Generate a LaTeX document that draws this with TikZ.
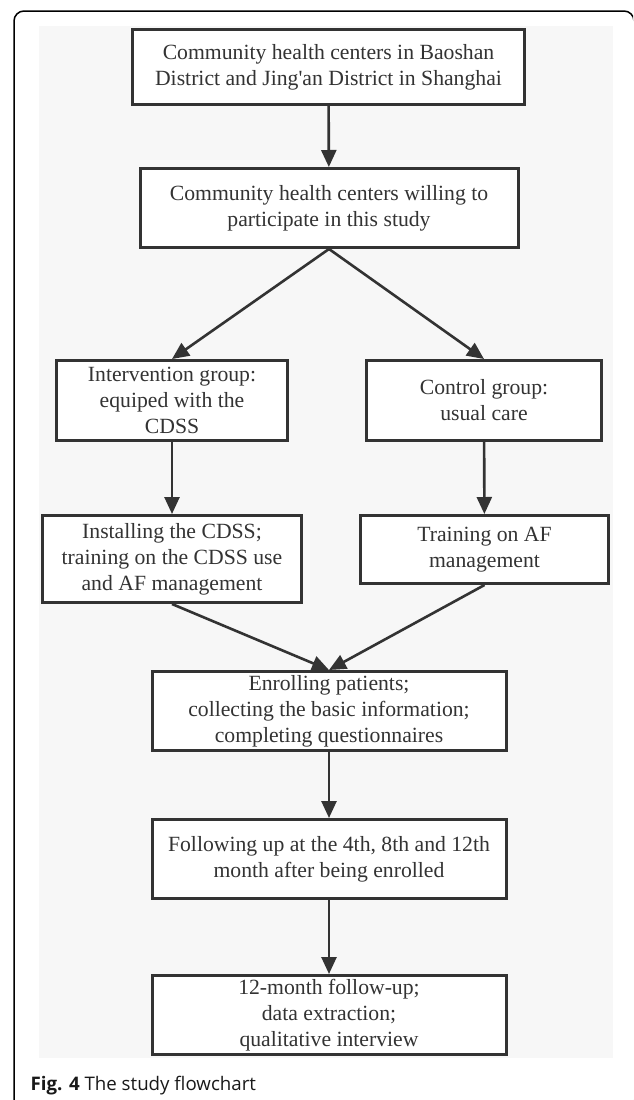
\documentclass[tikz,border=0pt]{standalone}
\usepackage{fontspec}
\setmainfont{Liberation Serif}
\newfontfamily\capfont{Open Sans}
\usetikzlibrary{arrows.meta}
\usetikzlibrary{positioning}
\usepackage{xcolor}
\definecolor{linegray}{HTML}{333333}
\definecolor{panelgray}{HTML}{F7F7F7}
\definecolor{textgray}{HTML}{333333}

\begin{document}
\begin{tikzpicture}[x=1pt, y=-1pt,
		flowbox/.style={draw=linegray, line width=3pt, fill=white, align=center, inner sep=0pt, text=textgray, font=\fontsize{21.7}{26}\selectfont},
		flowarrow/.style={draw=linegray, line width=2.6pt, -{Triangle[length=17pt, width=15pt]}}]
		% 外框和底色
		\useasboundingbox (0,0) rectangle (633,1100);
		\begin{scope}
			\clip (0,0) rectangle (633,1100);
			\draw[line width=1.5pt, rounded corners=10pt] (14,11) rectangle (634,1110);
		\end{scope}
		\fill[panelgray] (39,26) rectangle (613,1058);

		% 上部
		\node[flowbox, minimum width=392pt, minimum height=75pt] (centers) at (328.5,67) {Community health centers in Baoshan\\District and Jing\textquotesingle an District in Shanghai};
		\node[flowbox, minimum width=378pt, minimum height=79pt] (willing) at (329,208) {Community health centers willing to\\participate in this study};

		% 两组
		\node[flowbox, minimum width=231pt, minimum height=80pt] (interv) at (172,400.5) {Intervention group:\\equiped with the\\CDSS};
		\node[flowbox, minimum width=235pt, minimum height=80pt] (control) at (484,400.5) {Control group:\\usual care};
		\node[flowbox, minimum width=259pt, minimum height=87pt] (install) at (172,559) {Installing the CDSS;\\training on the CDSS use\\and AF management};
		\node[flowbox, minimum width=248pt, minimum height=68pt] (training) at (484.5,549.5) {Training on AF\\management};

		% 下部
		\node[flowbox, minimum width=354pt, minimum height=79pt] (enroll) at (329,711) {Enrolling patients;\\collecting the basic information;\\completing questionnaires};
		\node[flowbox, minimum width=354pt, minimum height=79pt] (followup) at (329,859) {Following up at the 4th, 8th and 12th\\month after being enrolled};
		\node[flowbox, minimum width=354pt, minimum height=79pt] (final) at (329,1015) {12-month follow-up;\\data extraction;\\qualitative interview};

		% 箭头
		\draw[flowarrow] (centers) -- (willing);
		\draw[flowarrow] (willing.south) -- (interv.north);
		\draw[flowarrow] (willing.south) -- (control.north);
		\draw[flowarrow] (interv) -- (install);
		\draw[flowarrow] (control) -- (training);
		\draw[flowarrow] (install.south) -- (enroll.north);
		\draw[flowarrow] (training.south) -- (enroll.north);
		\draw[flowarrow] (enroll) -- (followup);
		\draw[flowarrow] (followup) -- (final);

		% 图题
		\node[anchor=base west, inner sep=0pt, text=black!90, font=\capfont\fontsize{18.7}{22}\selectfont] (caption) at (30.5,1090) {\textbf{Fig. 4} The study flowchart};
	\end{tikzpicture}
\end{document}
